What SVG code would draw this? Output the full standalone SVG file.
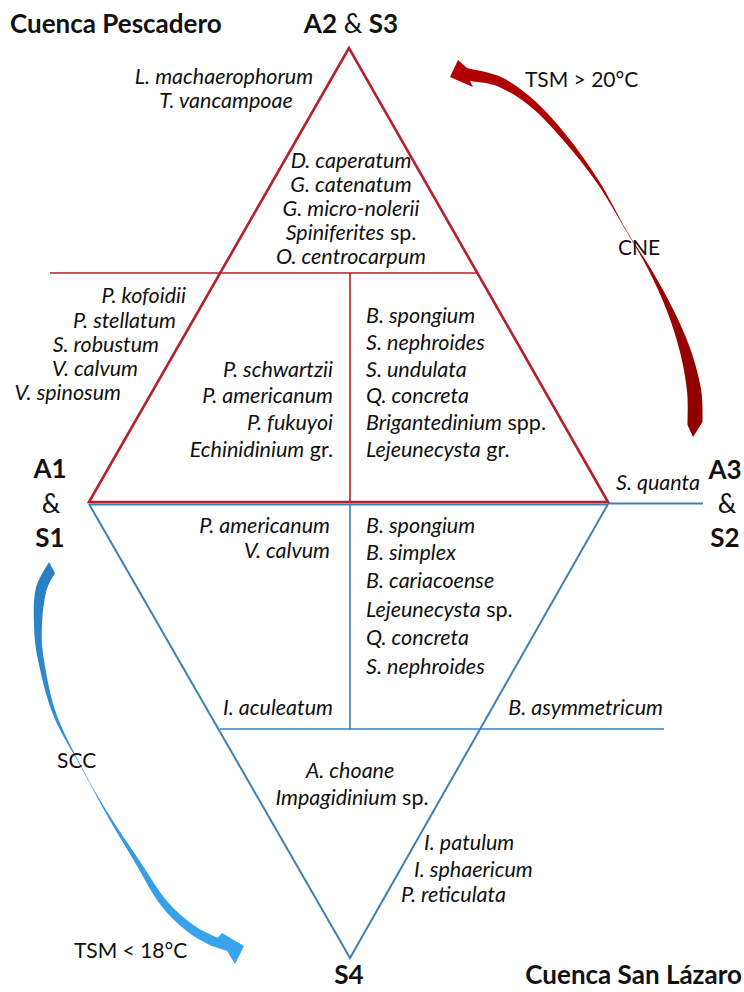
<svg xmlns="http://www.w3.org/2000/svg" width="744" height="992" viewBox="0 0 744 992">
<defs>
<style>
text{font-family:Lato,"Liberation Sans","Noto Sans",sans-serif;fill:#111}
.sp{font-size:21.5px;font-style:italic}
.sp tspan.n{font-style:normal}
.lab{font-size:21px}
.big{font-size:26px}
.b{font-weight:bold}
.red{stroke:#b51f28;fill:none}
.blue{stroke:#3b80b6;fill:none}
.m{text-anchor:middle}
.e{text-anchor:end}
</style>
<linearGradient id="gRed" x1="0" y1="0" x2="0" y2="1">
<stop offset="0" stop-color="#b30000"/>
<stop offset="1" stop-color="#8e0000"/>
</linearGradient>
<linearGradient id="gBlue" x1="0" y1="0" x2="0" y2="1">
<stop offset="0" stop-color="#2a7dc2"/>
<stop offset="1" stop-color="#3aa6ee"/>
</linearGradient>
</defs>
<rect width="744" height="992" fill="#fff"/>

<g id="connectors">
<polyline class="blue" stroke-width="2" points="89,504 350,958 608,504"/>
<line class="blue" stroke-width="2" x1="89" y1="504.5" x2="608" y2="504.5"/>
<line class="blue" stroke-width="1.8" x1="608" y1="503.5" x2="703" y2="503.5"/>
<line class="blue" stroke-width="1.6" x1="350" y1="504" x2="350" y2="729"/>
<line class="blue" stroke-width="1.6" x1="220" y1="729" x2="664" y2="729"/>
<polygon class="red" stroke-width="2.6" points="349,48 89,502 608,502"/>
<line class="red" stroke-width="1.6" x1="50" y1="273" x2="478" y2="273"/>
<line class="red" stroke-width="1.6" x1="350" y1="273" x2="350" y2="502"/>
</g>

<g id="arrow-cne">
<path fill="url(#gRed)" d="M450,77 L458,60 L467,68 C472.8,69.6 490.7,72 502,77.5 C513.3,83 524.2,91.3 535,101 C545.8,110.8 556.3,122.7 567,136 C577.7,149.3 588.8,164.8 599,181 C609.2,197.2 619.3,218.3 628,233 C636.7,247.7 643.5,256.3 651,269 C658.5,281.7 666.5,295.8 673,309 C679.5,322.2 685.3,334.7 690,348 C694.7,361.3 698.9,376.7 701,389 C703.1,401.3 702.3,416.5 702.5,422 L693,437 L687.5,425 C687.4,419.3 688.3,403.2 687,391 C685.8,378.8 683.3,365.3 680,352 C676.7,338.7 672.2,324.5 667,311 C661.8,297.5 655.5,283.8 649,271 C642.5,258.2 636.7,248.7 628,234 C619.3,219.3 607.8,198.7 597,183 C586.2,167.3 574,152.7 563,140 C552,127.3 541.8,115.9 531,107 C520.2,98.1 508.2,90.8 498,86.5 C487.8,82.2 474.7,81.9 470,81 L473,87 Z"/>
</g>
<g id="arrow-scc">
<path fill="url(#gBlue)" d="M49,562 C46.8,566.5 38.2,578.2 35.7,588.7 C33.2,599.2 33.6,613 34,625 C34.4,637 34.9,645.5 38.1,660.6 C41.3,675.7 46,697.3 53.4,715.6 C60.8,733.9 73.7,753.4 82.7,770.1 C91.7,786.8 98.7,800.6 107.1,815.5 C115.5,830.4 124.3,844.4 133.1,859.2 C141.9,874 151.1,892.2 160.1,904.3 C169.1,916.4 178.6,924.6 187.3,931.6 C196,938.6 205.9,943.1 212.5,946.3 L227,951 L235,964 L244,946 L222,933 L217.5,937.7 C213.4,935.5 201.3,930.7 192.7,924.4 C184.1,918.1 175.2,911 165.9,899.7 C156.6,888.4 146.4,871 136.9,856.8 C127.4,842.6 117.8,829 108.9,814.5 C100,800 92,786.6 83.3,769.9 C74.6,753.2 63.2,732.8 56.6,714.4 C50,696 46.3,674.3 43.9,659.4 C41.5,644.5 41.6,636.4 42,625 C42.4,613.6 44.1,600 46.3,591.3 C48.5,582.6 53.6,576 55,573 Z"/>
</g>

<g id="title-pescadero"><text class="big b" x="10" y="33">Cuenca Pescadero</text></g>
<g id="title-sanlazaro"><text class="big b e" x="742" y="984">Cuenca San Lázaro</text></g>

<g id="vertex-top"><text class="big m" x="351" y="33"><tspan class="b">A2</tspan> &amp; <tspan class="b">S3</tspan></text></g>
<g id="vertex-left">
<text class="big b m" x="50" y="478">A1</text>
<text class="big m" x="51" y="513">&amp;</text>
<text class="big b m" x="50" y="547">S1</text>
</g>
<g id="vertex-right">
<text class="big b m" x="725" y="479">A3</text>
<text class="big m" x="727" y="513">&amp;</text>
<text class="big b m" x="725" y="547">S2</text>
</g>
<g id="vertex-bottom"><text class="big b m" x="349" y="984">S4</text></g>

<g id="label-cne">
<text class="lab" x="525" y="87">TSM &gt; 20°C</text>
<text class="lab" x="618" y="255">CNE</text>
</g>
<g id="label-scc">
<text class="lab" x="57" y="768">SCC</text>
<text class="lab" x="74" y="958">TSM &lt; 18°C</text>
</g>

<g id="sp-apex-outside">
<text class="sp m" x="224" y="84">L. machaerophorum</text>
<text class="sp m" x="226" y="108">T. vancampoae</text>
</g>
<g id="sp-apex">
<text class="sp m" x="351" y="168">D. caperatum</text>
<text class="sp m" x="351" y="192">G. catenatum</text>
<text class="sp m" x="351" y="216">G. micro-nolerii</text>
<text class="sp m" x="351" y="240">Spiniferites<tspan class="n"> sp.</tspan></text>
<text class="sp m" x="351" y="264">O. centrocarpum</text>
</g>
<g id="sp-left-outside">
<text class="sp e" x="186" y="303">P. kofoidii</text>
<text class="sp e" x="176" y="328">P. stellatum</text>
<text class="sp e" x="159" y="352">S. robustum</text>
<text class="sp e" x="138" y="376">V. calvum</text>
<text class="sp e" x="121" y="400">V. spinosum</text>
</g>
<g id="sp-upper-left">
<text class="sp e" x="333" y="377">P. schwartzii</text>
<text class="sp e" x="333" y="403">P. americanum</text>
<text class="sp e" x="333" y="430">P. fukuyoi</text>
<text class="sp e" x="333" y="457">Echinidinium<tspan class="n"> gr.</tspan></text>
</g>
<g id="sp-upper-right">
<text class="sp" x="366" y="323">B. spongium</text>
<text class="sp" x="366" y="350">S. nephroides</text>
<text class="sp" x="366" y="377">S. undulata</text>
<text class="sp" x="366" y="403">Q. concreta</text>
<text class="sp" x="366" y="430">Brigantedinium<tspan class="n"> spp.</tspan></text>
<text class="sp" x="366" y="457">Lejeunecysta<tspan class="n"> gr.</tspan></text>
</g>
<g id="sp-right-vertex"><text class="sp e" x="700" y="490">S. quanta</text></g>
<g id="sp-lower-left">
<text class="sp e" x="330" y="533">P. americanum</text>
<text class="sp e" x="330" y="558">V. calvum</text>
<text class="sp e" x="333" y="715">I. aculeatum</text>
</g>
<g id="sp-lower-right">
<text class="sp" x="366" y="533">B. spongium</text>
<text class="sp" x="366" y="560">B. simplex</text>
<text class="sp" x="366" y="588">B. cariacoense</text>
<text class="sp" x="366" y="617">Lejeunecysta<tspan class="n"> sp.</tspan></text>
<text class="sp" x="366" y="645">Q. concreta</text>
<text class="sp" x="366" y="674">S. nephroides</text>
</g>
<g id="sp-asymmetricum"><text class="sp e" x="663" y="715">B. asymmetricum</text></g>
<g id="sp-bottom">
<text class="sp m" x="350" y="778">A. choane</text>
<text class="sp m" x="352" y="805">Impagidinium<tspan class="n"> sp.</tspan></text>
</g>
<g id="sp-bottom-right">
<text class="sp" x="424" y="850">I. patulum</text>
<text class="sp" x="414" y="877">I. sphaericum</text>
<text class="sp" x="401" y="902">P. reticulata</text>
</g>
</svg>
